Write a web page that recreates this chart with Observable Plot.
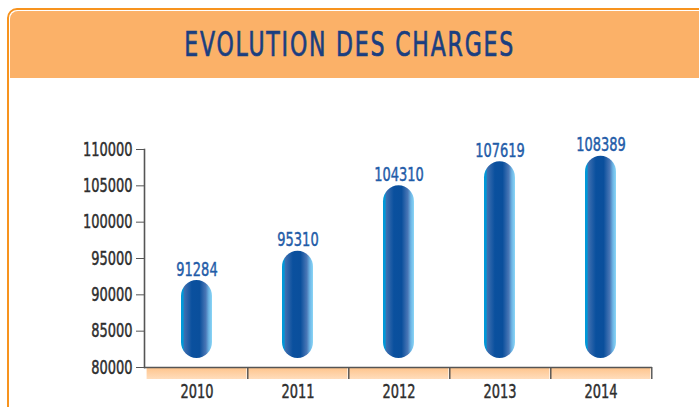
<!DOCTYPE html>
<html>
<head>
<meta charset="utf-8">
<script src="https://cdn.jsdelivr.net/npm/d3@7"></script>
<script src="https://cdn.jsdelivr.net/npm/@observablehq/plot@0.6"></script>
<style>
  body { margin: 0; background: #fff; }
  #wrap { position: relative; width: 699px; height: 407px; overflow: hidden; background: #fff; }
  #frame { position: absolute; left: 7px; top: 8px; width: 740px; height: 440px; border: 2.5px solid #F7931E; border-radius: 10px; box-sizing: border-box; }
  #header { position: absolute; left: 9.5px; top: 10.5px; width: 740px; height: 67px; background: #FBB168; border-radius: 8px 0 0 0; }
  #title { position: absolute; left: 0; top: 24px; width: 699px; text-align: center; }
  #title span { display: inline-block; font-family: "DejaVu Sans Condensed", "Liberation Sans Narrow", sans-serif; font-size: 34px; letter-spacing: 2.5px; color: #1A3E80; -webkit-text-stroke: 0.7px #1A3E80; line-height: 40px; transform: scaleX(0.72); transform-origin: 50% 50%; white-space: nowrap; }
  #chart { position: absolute; left: 0; top: 0; }
  #chart svg text { stroke-width: 0.45px; }
</style>
</head>
<body>
<div id="wrap">
  <div id="frame"></div>
  <div id="header"></div>
  <div id="title"><span>EVOLUTION DES CHARGES</span></div>
  <div id="chart"></div>
</div>
<script>
const years = ["2010", "2011", "2012", "2013", "2014"];
const charges = [91284, 95310, 104310, 107619, 108389];
const yTicks = [80000, 85000, 90000, 95000, 100000, 105000, 110000];
const yDomain = [80000, 110000];

const data = years.map((year, i) => ({year, value: charges[i]}));
const base = yDomain[0];
const font = "'DejaVu Sans Condensed', 'Liberation Sans Narrow', sans-serif";

const chart = Plot.plot({
  width: 699,
  height: 407,
  marginLeft: 144,
  marginRight: 47,
  marginTop: 149,
  marginBottom: 40,
  style: {background: "transparent", fontFamily: font, overflow: "visible"},
  x: {domain: years, padding: 0, label: null},
  y: {domain: yDomain, label: null},
  marks: [
    Plot.barY(data, {x: "year", y1: base, y2: base, fill: "url(#bandGrad)", insetBottom: -12, insetLeft: 0.6, insetRight: 0.6}),
    Plot.ruleX(years, {x: d => d, dx: 50.8, y1: base, y2: base, insetBottom: -12, stroke: "#444", strokeWidth: 1.3}),
    Plot.ruleY([base], {stroke: "#555", strokeWidth: 1.6}),
    Plot.frame({anchor: "left", stroke: "#555", strokeWidth: 1.6}),
    Plot.axisY({ticks: yTicks, tickSize: 8, tickPadding: 4, tickFormat: d => String(d), fontSize: 19, color: "#2e2e2e", stroke: "#555"}),
    Plot.axisX({tickSize: 0, tickPadding: 17, fontSize: 19, color: "#2e2e2e"}),
    Plot.barY(data, {x: "year", y1: base, y2: "value", fill: "url(#barGrad)", insetLeft: 35, insetRight: 35, insetBottom: 9, insetTop: -5, rx: 16}),
    Plot.text(data, {x: "year", y: "value", text: d => String(d.value), lineAnchor: "bottom", dy: -10, fill: "#1F5CA8", stroke: "#1F5CA8", fontSize: 19})
  ]
});

const svg = d3.select(chart);
const defs = svg.insert("defs", ":first-child");
const bg = defs.append("linearGradient").attr("id", "barGrad").attr("x1", 0).attr("x2", 1).attr("y1", 0).attr("y2", 0);
[[0, "#0098d8"], [0.07, "#0098d8"], [0.1, "#3f6fb0"], [0.35, "#0a509e"], [0.6, "#0a4f9c"], [0.8, "#4a77b6"], [0.9, "#6db6e6"], [1, "#8ad6f6"]]
  .forEach(([o, c]) => bg.append("stop").attr("offset", o).attr("stop-color", c));
const og = defs.append("linearGradient").attr("id", "bandGrad").attr("x1", 0).attr("x2", 0).attr("y1", 0).attr("y2", 1);
[[0, "#FEC38A"], [1, "#FFDDBC"]].forEach(([o, c]) => og.append("stop").attr("offset", o).attr("stop-color", c));

// condense the text horizontally (the original uses a condensed typeface)
svg.selectAll("text").each(function() {
  const t = this.getAttribute("transform") || "";
  this.setAttribute("transform", t + " scale(0.76,1)");
  if (!this.getAttribute("stroke") && !this.closest("[stroke]")?.matches("text,g[aria-label=text]")) {
    const fill = this.getAttribute("fill") || this.parentNode.getAttribute("fill") || "#2e2e2e";
    this.setAttribute("stroke", fill === "currentColor" ? "#2e2e2e" : fill);
  }
});

document.getElementById("chart").appendChild(chart);
</script>
</body>
</html>
